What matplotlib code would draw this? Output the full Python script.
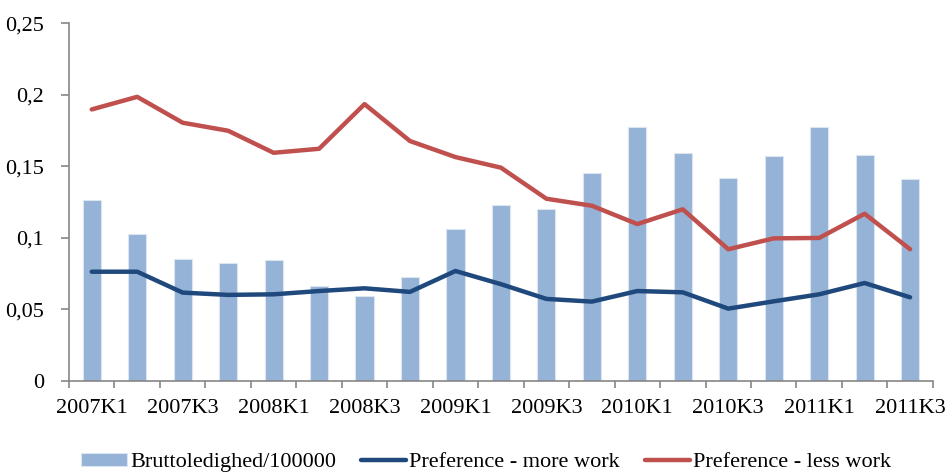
import numpy as np
import matplotlib
matplotlib.use("Agg")
import matplotlib.pyplot as plt
from matplotlib.ticker import FixedLocator, FuncFormatter

plt.rcParams["font.family"] = ["Liberation Serif", "DejaVu Serif"]

quarters = [f"{y}K{q}" for y in range(2007, 2012) for q in range(1, 5)][:19]

brutto = [0.1264, 0.1027, 0.0851, 0.0824, 0.0844, 0.0663, 0.0593, 0.0728,
          0.1061, 0.1226, 0.1198, 0.1454, 0.1777, 0.1592, 0.1415, 0.1571,
          0.1773, 0.1578, 0.1411]
more_work = [0.0763, 0.0763, 0.0617, 0.0601, 0.0605, 0.0628, 0.0647, 0.0622,
             0.0768, 0.0676, 0.0573, 0.0554, 0.0628, 0.0619, 0.0505, 0.0556,
             0.0605, 0.0684, 0.0584]
less_work = [0.1897, 0.1985, 0.1804, 0.1748, 0.1594, 0.1622, 0.1934, 0.1676,
             0.1564, 0.1490, 0.1273, 0.1224, 0.1096, 0.1199, 0.0920, 0.0996,
             0.0999, 0.1168, 0.0920]

yticks = [0, 0.05, 0.1, 0.15, 0.2, 0.25]

axis_grey = "#868686"
fs = 16

fig = plt.figure(figsize=(9.48, 4.72), dpi=100)
ax = fig.add_axes([0.0728, 0.193, 0.9112, 0.758])

x = np.arange(len(quarters))
bars = ax.bar(x, brutto, width=0.4, color="#95B3D7", edgecolor="#DCE6F2",
              linewidth=0.8, label="Bruttoledighed/100000", zorder=2)
l_more, = ax.plot(x, more_work, color="#1F497D", lw=3.2, solid_capstyle="round",
                  label="Preference - more work", zorder=3)
l_less, = ax.plot(x, less_work, color="#C0504D", lw=3.2, solid_capstyle="round",
                  label="Preference - less work", zorder=3)

ax.set_xlim(-0.5, len(quarters) - 0.5)
ax.set_ylim(0, 0.25)

# category labels on every second quarter, tick marks on the boundaries
ax.xaxis.set_major_locator(FixedLocator(x[::2]))
ax.set_xticklabels(quarters[::2])
ax.xaxis.set_minor_locator(FixedLocator(np.arange(-0.5, len(quarters), 1)))
ax.tick_params(axis="x", which="major", length=0, pad=13, labelsize=fs)
ax.tick_params(axis="x", which="minor", length=5, width=1.2, color=axis_grey,
               direction="out")

ax.set_yticks(yticks)
ax.yaxis.set_major_formatter(FuncFormatter(lambda v, _: f"{v:g}".replace(".", ",")))
ax.tick_params(axis="y", length=6, width=1.2, color=axis_grey, pad=12,
               labelsize=fs)

for side in ("top", "right"):
    ax.spines[side].set_visible(False)
for side in ("left", "bottom"):
    ax.spines[side].set_color(axis_grey)
    ax.spines[side].set_linewidth(1.2)

fig.legend(handles=[bars, l_more, l_less], loc="center",
           bbox_to_anchor=(0.513, 0.02), ncol=3, frameon=False, fontsize=fs,
           handlelength=2.05, handleheight=0.55, handletextpad=0.15,
           columnspacing=1.1, borderaxespad=0)

fig.savefig("out.png", dpi=100)
